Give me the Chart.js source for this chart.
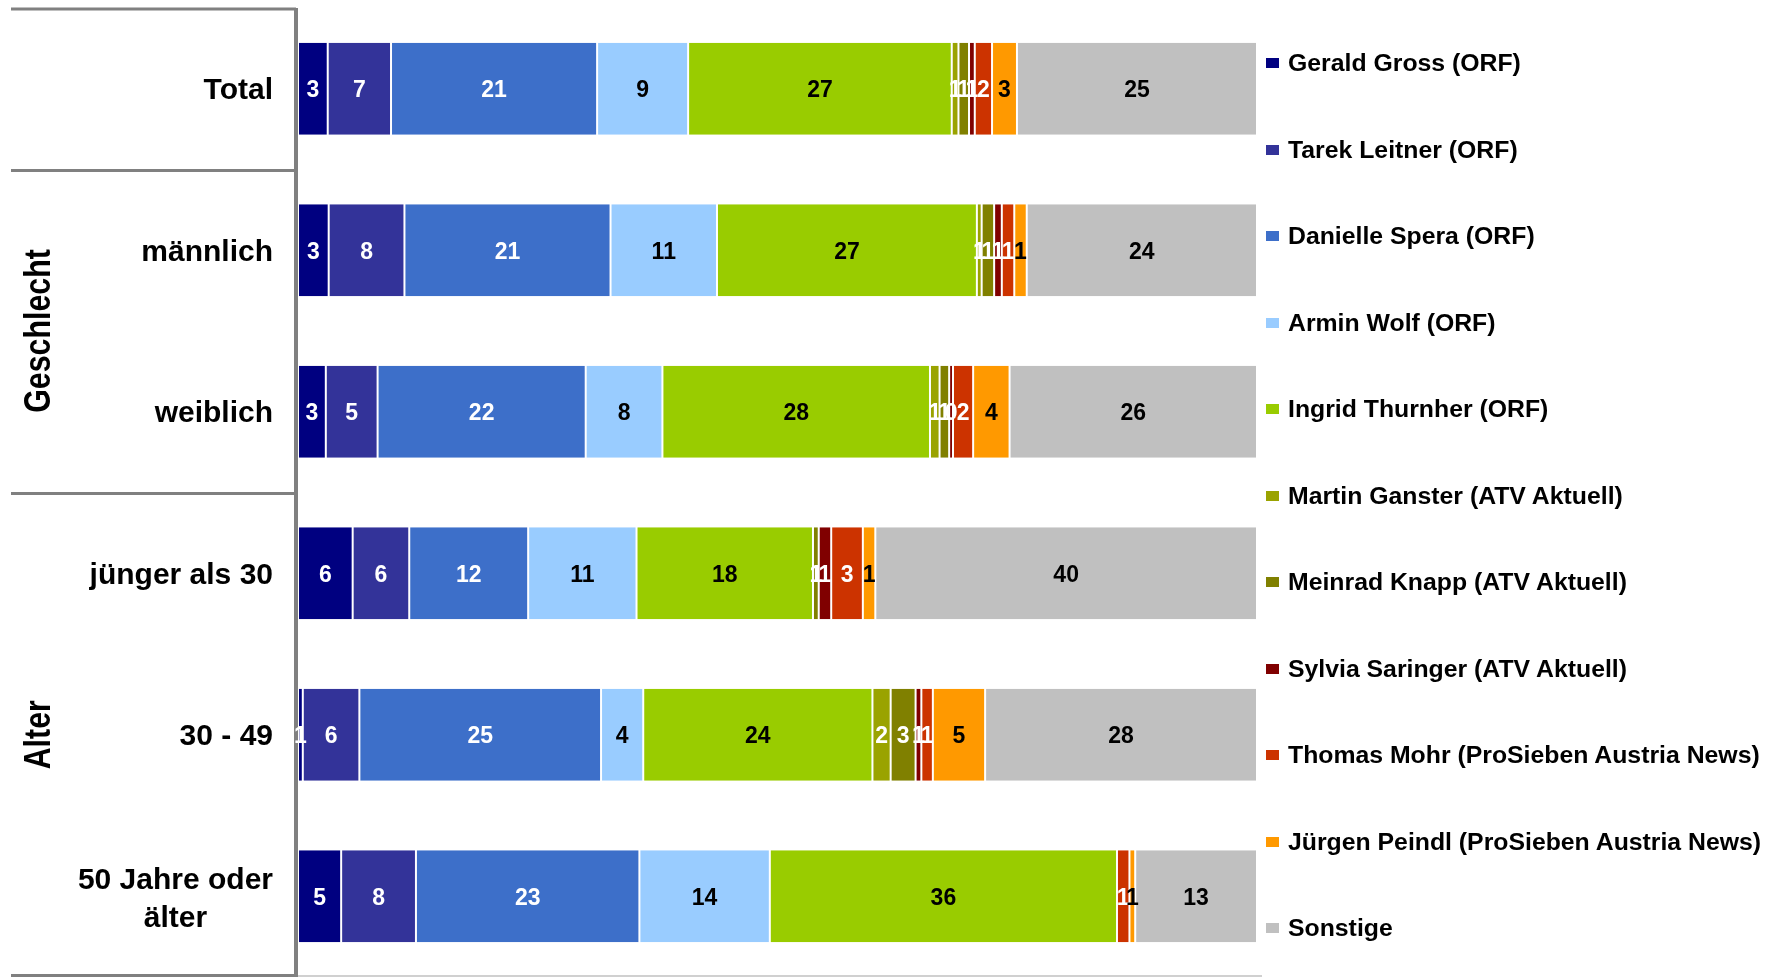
<!DOCTYPE html>
<html>
<head>
<meta charset="utf-8">
<script src="https://cdn.jsdelivr.net/npm/chart.js@4.4.6/dist/chart.umd.min.js"></script>
<style>
  html, body { margin: 0; padding: 0; background: #fff; overflow: hidden; }
  #wrap { position: relative; width: 1767px; height: 977px; }
  #legend { position: absolute; left: 1266px; top: 20px; font: bold 24.8px "Liberation Sans", Arial, sans-serif; color: #000; }
  #legend .item { height: 86.5px; display: flex; align-items: center; white-space: nowrap; }
  #legend .box { width: 13px; height: 10px; margin-right: 9px; flex: none; }
</style>
</head>
<body>
<div id="wrap">
  <canvas id="chart"></canvas>
  <div id="legend"></div>
</div>
<script>
// categories (rows) and the two groups on the left
const categories = ["Total", "männlich", "weiblich", "jünger als 30", "30 - 49", ["50 Jahre oder", "älter"]];
const groups = [
  { label: "Geschlecht", from: 1, to: 2 },
  { label: "Alter", from: 3, to: 5 }
];

const seriesNames = [
  "Gerald Gross (ORF)", "Tarek Leitner (ORF)", "Danielle Spera (ORF)", "Armin Wolf (ORF)",
  "Ingrid Thurnher (ORF)", "Martin Ganster (ATV Aktuell)", "Meinrad Knapp (ATV Aktuell)",
  "Sylvia Saringer (ATV Aktuell)", "Thomas Mohr (ProSieben Austria News)",
  "Jürgen Peindl (ProSieben Austria News)", "Sonstige"
];

// percent values per row: Total, männlich, weiblich, <30, 30-49, 50+
const gross    = [3.1, 3.2, 2.9, 5.7, 0.5, 4.5];
const leitner  = [6.6, 7.9, 5.4, 5.9, 5.9, 7.8];
const spera    = [21.49, 21.49, 21.7, 12.4, 25.2, 23.3];
const wolf     = [9.49, 11.1, 8.0, 11.3, 4.4, 13.6];
const thurnher = [27.49, 27.1, 27.9, 18.4, 23.9, 36.2];
const ganster  = [0.7, 0.5, 1.0, null, 1.9, null];
const knapp    = [1.1, 1.3, 1.0, 0.6, 2.6, null];
const saringer = [0.6, 0.8, 0.4, 1.3, 0.6, null];
const mohr     = [1.8, 1.3, 2.1, 3.3, 1.2, 1.3];
const peindl   = [2.6, 1.3, 3.8, 1.3, 5.45, 0.6];
const sonstige = [25.03, 24.01, 25.8, 39.8, 28.35, 12.7];

const seriesValues = [gross, leitner, spera, wolf, thurnher, ganster, knapp, saringer, mohr, peindl, sonstige];

const colors = ["#000080", "#333399", "#3d6fc9", "#99ccff", "#99cc00", "#9aa300",
                "#808000", "#800000", "#cc3300", "#ff9900", "#c0c0c0"];
const labelColors = ["#fff", "#fff", "#fff", "#000", "#000", "#fff",
                     "#fff", "#fff", "#fff", "#000", "#000"];

const FONT = '"Liberation Sans", Arial, sans-serif';

// html legend
const legendEl = document.getElementById("legend");
seriesNames.forEach((name, i) => {
  const item = document.createElement("div");
  item.className = "item";
  const box = document.createElement("span");
  box.className = "box";
  box.style.background = colors[i];
  const txt = document.createElement("span");
  txt.textContent = name;
  item.appendChild(box);
  item.appendChild(txt);
  legendEl.appendChild(item);
});

// frame lines, category labels, group labels, value labels
const decorations = {
  id: "decorations",
  beforeDatasetsDraw(chart) {
    const { ctx, chartArea, scales: { y } } = chart;
    ctx.save();
    ctx.strokeStyle = "#808080";
    ctx.lineWidth = 3;
    // horizontal separators on the left
    [-0.5, 0.5, 2.5].forEach(v => {
      const py = Math.max(y.getPixelForValue(v), chartArea.top) + 1;
      ctx.beginPath();
      ctx.moveTo(11, py);
      ctx.lineTo(296, py);
      ctx.stroke();
    });
    // bottom line
    ctx.beginPath();
    ctx.moveTo(11, 975.5);
    ctx.lineTo(296, 975.5);
    ctx.stroke();
    ctx.strokeStyle = "#d0d0d0";
    ctx.lineWidth = 2;
    ctx.beginPath();
    ctx.moveTo(296, 976);
    ctx.lineTo(1262, 976);
    ctx.stroke();
    // vertical axis line
    ctx.strokeStyle = "#808080";
    ctx.lineWidth = 4;
    ctx.beginPath();
    ctx.moveTo(296, chartArea.top);
    ctx.lineTo(296, 977);
    ctx.stroke();

    // category labels
    ctx.fillStyle = "#000";
    ctx.font = "bold 30px " + FONT;
    ctx.textBaseline = "middle";
    const right = 273;
    categories.forEach((c, i) => {
      const py = y.getPixelForValue(i) + 2;
      if (Array.isArray(c)) {
        const w = Math.max(...c.map(t => ctx.measureText(t).width));
        ctx.textAlign = "center";
        const lh = 38;
        c.forEach((t, k) => {
          ctx.fillText(t, right - w / 2, py + 1 + (k - (c.length - 1) / 2) * lh);
        });
      } else {
        ctx.textAlign = "right";
        ctx.fillText(c, right, py);
      }
    });

    // group labels, rotated
    groups.forEach(g => {
      const py = y.getPixelForValue((g.from + g.to) / 2);
      ctx.save();
      ctx.translate(40, py);
      ctx.rotate(-Math.PI / 2);
      ctx.scale(0.82, 1);
      ctx.font = "bold 37px " + FONT;
      ctx.textAlign = "center";
      ctx.textBaseline = "middle";
      ctx.fillText(g.label, 0, 0);
      ctx.restore();
    });
    ctx.restore();
  },
  afterDatasetsDraw(chart) {
    const { ctx } = chart;
    ctx.save();
    ctx.font = "bold 23px " + FONT;
    ctx.textAlign = "center";
    ctx.textBaseline = "middle";
    chart.data.datasets.forEach((ds, di) => {
      const meta = chart.getDatasetMeta(di);
      meta.data.forEach((el, i) => {
        const v = ds.data[i];
        if (v === null || v === undefined) return;
        ctx.fillStyle = labelColors[di];
        ctx.fillText(String(Math.round(v)), (el.x + el.base) / 2, el.y + 2);
      });
    });
    ctx.restore();
  }
};

const config = {
  type: "bar",
  data: {
    labels: categories,
    datasets: seriesNames.map((name, i) => ({
      label: name,
      data: seriesValues[i],
      backgroundColor: colors[i],
      borderColor: "#ffffff",
      borderWidth: { left: 1, right: 1, top: 0, bottom: 0 },
      borderSkipped: false,
      categoryPercentage: 1,
      barPercentage: 0.57
    }))
  },
  options: {
    indexAxis: "y",
    responsive: true,
    maintainAspectRatio: false,
    animation: false,
    layout: { padding: { left: 298, right: 510, top: 8, bottom: 0 } },
    plugins: {
      legend: { display: false },
      tooltip: { enabled: false }
    },
    scales: {
      x: { stacked: true, min: 0, max: 100, display: false },
      y: { stacked: true, display: false }
    }
  },
  plugins: [decorations]
};

new Chart(document.getElementById("chart"), config);
</script>
</body>
</html>
